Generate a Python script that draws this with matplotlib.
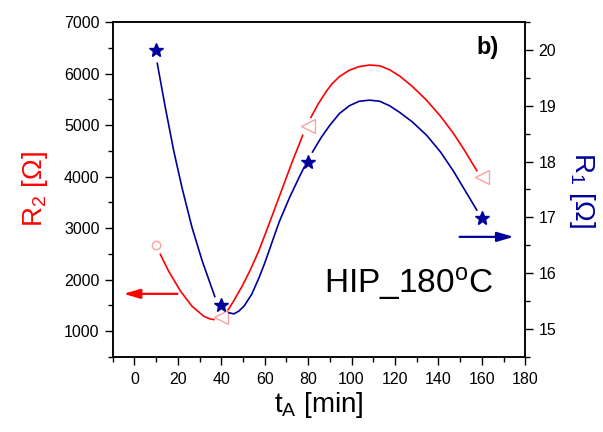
# -*- coding: utf-8 -*-
import numpy as np
import matplotlib.pyplot as plt
from matplotlib.ticker import MultipleLocator

plt.rcParams['font.family'] = ['Liberation Sans', 'DejaVu Sans']
plt.rcParams['mathtext.fontset'] = 'custom'
plt.rcParams['mathtext.rm'] = 'Liberation Sans'
plt.rcParams['mathtext.it'] = 'Liberation Sans:italic'

# measured points
t_r2 = [10, 40, 80, 160]
r2 = [2680, 1275, 4980, 3990]
t_r1 = [10, 40, 80, 160]
r1 = [20.0, 15.42, 18.0, 16.98]

# smooth curves (nan = gap at a marker)
t_r2_curve = [11.9, 15.7, 21.2, 26.5, 31.9, 34.5, 36.6, np.nan,
              42.7, 45.5, 49.7, 53.5, 57.4, 62.0, 66.7, 72.8, 77.5, np.nan,
              81.3, 84.5, 88.3, 91.0, 94.4, 99.0, 103.5, 108.3, 113.0, 117.5,
              122.2, 128.0, 134.6, 141.0, 146.9, 152.0, 157.7]
r2_curve = [2491, 2166, 1776, 1483, 1288, 1240, 1222, np.nan,
            1386, 1570, 1880, 2200, 2570, 3080, 3610, 4300, 4800, np.nan,
            5150, 5400, 5650, 5800, 5940, 6065, 6135, 6165, 6150, 6075,
            5950, 5750, 5480, 5170, 4840, 4510, 4115]
t_r1_curve = [10.5, 14.2, 18.1, 21.9, 26.5, 31.2, 35.0, 37.0, np.nan,
              43.5, 45.8, 48.1, 50.5, 54.0, 57.4, 60.0, 62.0, 64.5, 66.7, 71.5, 75.9, 78.2, np.nan,
              82.0, 86.0, 89.8, 94.4, 99.0, 103.5, 108.3, 113.0, 117.5,
              122.2, 128.0, 134.6, 141.0, 146.9, 152.0, 157.7]
r1_curve = [19.76, 18.97, 18.19, 17.53, 16.82, 16.22, 15.80, 15.58, np.nan,
            15.29, 15.27, 15.32, 15.41, 15.62, 15.92, 16.18, 16.40, 16.68, 16.92, 17.36, 17.72, 17.90, np.nan,
            18.17, 18.43, 18.64, 18.86, 19.00, 19.08, 19.10, 19.08, 19.00,
            18.88, 18.71, 18.47, 18.17, 17.83, 17.50, 17.13]

red = '#ff0000'
pink = '#ff9f9f'
navy = '#00009c'

fig = plt.figure(figsize=(6.03, 4.32), dpi=100)
ax = fig.add_axes([0.187, 0.174, 0.684, 0.775])
ax2 = ax.twinx()

ax.plot(t_r2_curve, r2_curve, color=red, lw=1.2)
ax.plot(t_r2[:1], r2[:1], 'o', ms=6, mfc='none', mec=pink, mew=1.0)
ax.plot(t_r2[1:], r2[1:], '<', ms=10, mfc='none', mec=pink, mew=1.0)

ax2.plot(t_r1_curve, r1_curve, color=navy, lw=1.2)
ax2.plot(t_r1, r1, '*', ms=10, color=navy, mec=navy)

ax.set_xlim(-10, 180)
ax.set_ylim(500, 7000)
ax2.set_ylim(14.5, 20.5)

ax.xaxis.set_major_locator(MultipleLocator(20))
ax.xaxis.set_minor_locator(MultipleLocator(10))
ax.yaxis.set_major_locator(MultipleLocator(1000))
ax.yaxis.set_minor_locator(MultipleLocator(500))
ax2.yaxis.set_major_locator(MultipleLocator(1))
ax2.yaxis.set_minor_locator(MultipleLocator(0.5))

for a in (ax, ax2):
    a.tick_params(which='major', direction='out', length=6, width=1, labelsize=11.5)
    a.tick_params(which='minor', direction='out', length=3.5, width=1)
    for s in a.spines.values():
        s.set_linewidth(1.1)
ax.tick_params(axis='x', pad=5)

ax.set_xlabel(r't$_\mathrm{A}$ [min]', fontsize=20, labelpad=2)
ax.set_ylabel(r'R$_2$ [$\Omega$]', fontsize=20, color=red, labelpad=10)
ax2.set_ylabel(r'R$_1$ [$\Omega$]', fontsize=20, color=navy, rotation=270, labelpad=29)

ax.annotate('', xy=(-6.3, 1723), xytext=(21.1, 1723),
            arrowprops=dict(arrowstyle='-|>,head_length=0.55,head_width=0.16',
                            mutation_scale=18, color=red, lw=1.6))
ax2.annotate('', xy=(176, 16.65), xytext=(148.5, 16.65),
             arrowprops=dict(arrowstyle='-|>,head_length=0.55,head_width=0.16',
                             mutation_scale=18, color=navy, lw=1.6), annotation_clip=False)

ax.text(0.908, 0.925, 'b)', transform=ax.transAxes, fontsize=17,
        fontweight='bold', ha='center', va='center')
ax.text(0.718, 0.192, r'HIP_180$^\mathrm{o}$C', transform=ax.transAxes,
        fontsize=24, ha='center', va='baseline')

fig.savefig('out.png', dpi=100)
